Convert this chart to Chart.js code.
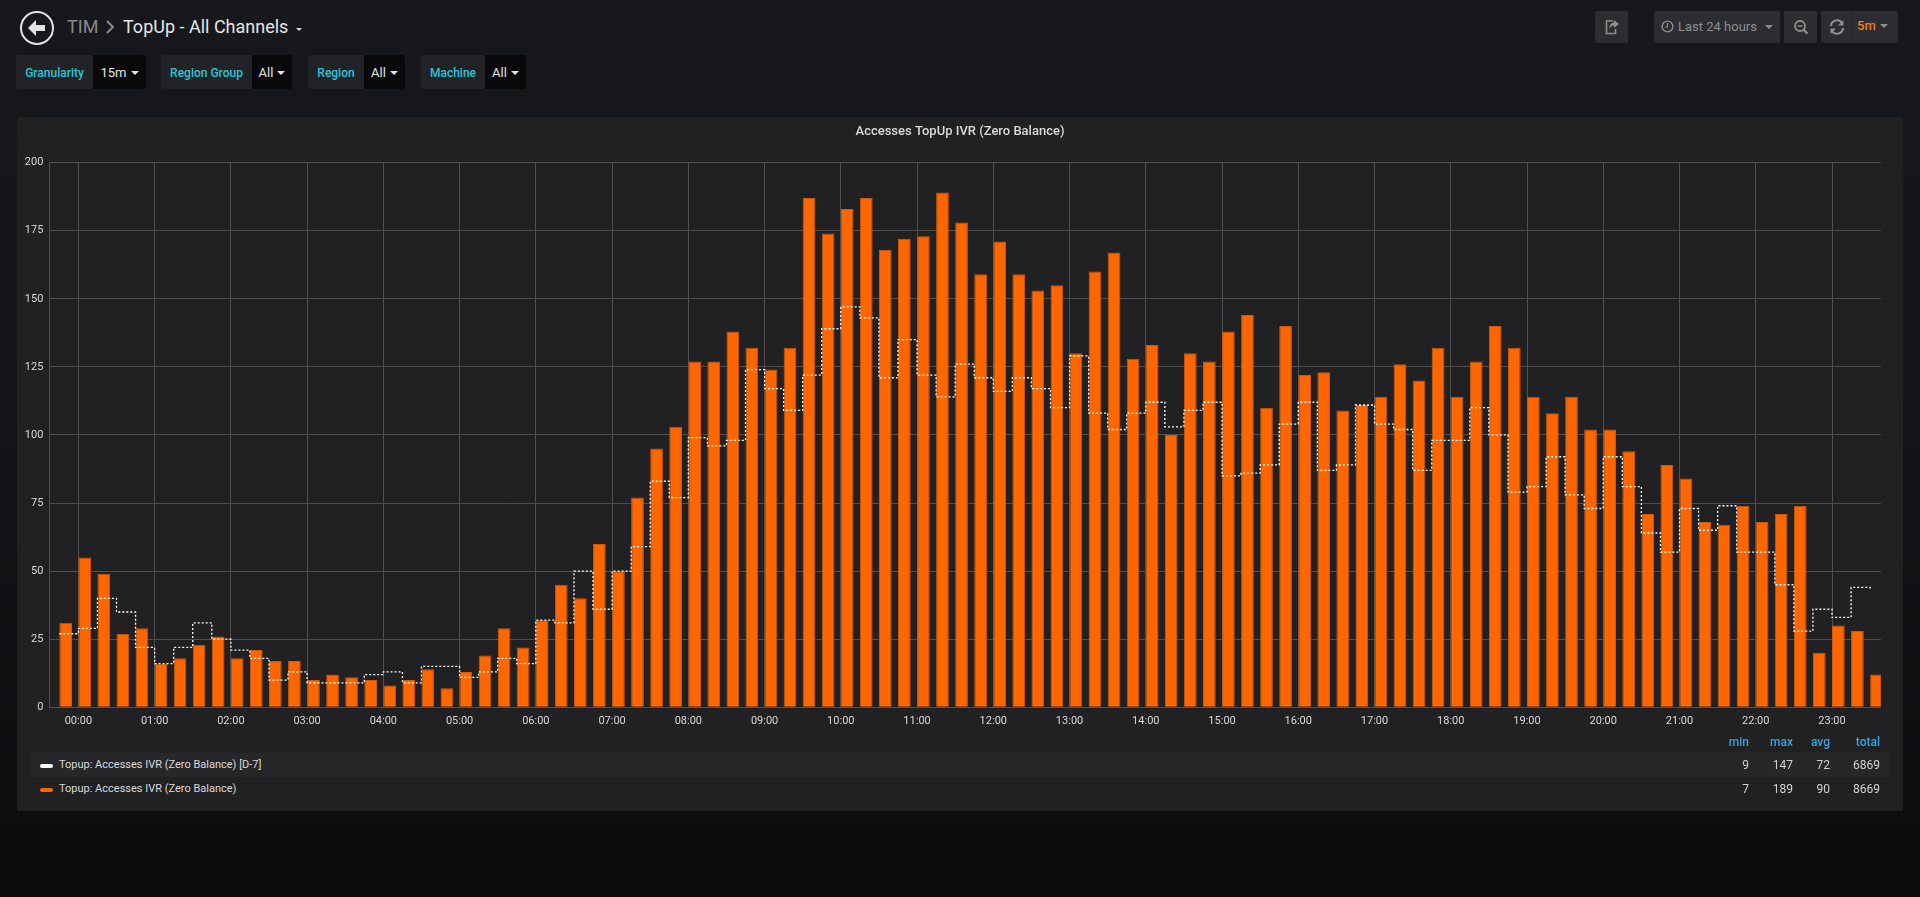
<!DOCTYPE html>
<html>
<head>
<meta charset="utf-8">
<title>TopUp - All Channels</title>
<script src="https://cdn.jsdelivr.net/npm/chart.js@4"></script>
<style>
html,body{margin:0;padding:0;width:1920px;height:897px;overflow:hidden;font-family:Roboto,sans-serif;}
body{background:linear-gradient(180deg,#17181b 0%,#141518 45%,#0b0c0e 100%);position:relative;}
.a{position:absolute;white-space:nowrap;}
.c{display:flex;align-items:center;justify-content:center;}
.caret{display:inline-block;width:0;height:0;border-left:4px solid transparent;border-right:4px solid transparent;border-top:4px solid currentColor;}
.lab{background:#212327;color:#29c5d9;font-size:12px;font-weight:500;border-radius:3px 0 0 3px;top:55px;height:34px;box-sizing:border-box;padding-top:1px;}
.val{background:#09090b;color:#e4e4e4;font-size:13px;border-radius:0 3px 3px 0;top:55px;height:34px;gap:4px;box-sizing:border-box;padding-top:1px;}
.btn{background:#2c2d30;border-radius:2px;top:11px;height:32px;color:#8e8e8e;font-size:13px;}
#panel{left:17px;top:117px;width:1886px;height:694px;background:#212124;border-radius:2px;}
canvas{position:absolute;left:17px;top:117px;}
.hd{top:735px;color:#33a5e0;font-size:12px;font-weight:500;text-align:right;line-height:14px;}
.row{left:30px;width:1860px;height:24px;}
.txt{color:#d0d1d2;font-size:12px;line-height:14px;}
.name{color:#d8d9da;font-size:11px;line-height:14px;}
.num{text-align:right;}
.sw{left:40px;width:13px;height:4px;border-radius:2px;}
</style>
</head>
<body>
<!-- header -->
<svg class="a" style="left:19px;top:10px" width="36" height="36" viewBox="0 0 36 36">
  <circle cx="18" cy="18" r="16" fill="none" stroke="#e3e3e3" stroke-width="2"/>
  <path d="M9 18 L17 10 L17 15 L26 15 L26 21 L17 21 L17 26 Z" fill="#e3e3e3"/>
</svg>
<div class="a" id="crumb" style="left:67px;top:15px;font-size:18px;line-height:24px;color:#8a8a8a">TIM</div>
<svg class="a" style="left:105px;top:20px" width="10" height="14" viewBox="0 0 10 14"><path d="M2 1 L8 7 L2 13" fill="none" stroke="#8a8a8a" stroke-width="2"/></svg>
<div class="a" style="left:123px;top:15px;font-size:18px;line-height:24px;color:#e6e6e6">TopUp - All Channels</div>
<div class="a caret" style="left:296px;top:28px;color:#d8d9da;border-left-width:3.5px;border-right-width:3.5px;border-top-width:3.5px"></div>

<div class="a lab c" style="left:16px;width:77px">Granularity</div>
<div class="a val c" style="left:93px;width:53px">15m <span class="caret"></span></div>
<div class="a lab c" style="left:161px;width:91px">Region Group</div>
<div class="a val c" style="left:252px;width:40px">All <span class="caret"></span></div>
<div class="a lab c" style="left:308px;width:56px">Region</div>
<div class="a val c" style="left:364px;width:41px">All <span class="caret"></span></div>
<div class="a lab c" style="left:421px;width:64px">Machine</div>
<div class="a val c" style="left:485px;width:41px">All <span class="caret"></span></div>

<div class="a btn c" style="left:1595px;width:33px">
  <svg width="16" height="16" viewBox="0 0 16 16"><path d="M9 2 H2.5 V14.5 H11.5 V10" fill="none" stroke="#8e8e8e" stroke-width="1.6"/><path d="M10 1 L15 5 L10 9 V6.6 C7.5 6.6 6 8 5.6 10.5 C5 7 6.5 3.6 10 3.4 Z" fill="#8e8e8e"/></svg>
</div>
<div class="a btn c" style="left:1654px;width:126px;gap:4px;background:#2c2d30;padding-bottom:1px;box-sizing:border-box">
  <svg width="13" height="13" viewBox="0 0 13 13"><circle cx="6.5" cy="6.5" r="5.4" fill="none" stroke="#8e8e8e" stroke-width="1.4"/><path d="M6.5 3 V7 H4" fill="none" stroke="#8e8e8e" stroke-width="1.2"/></svg>
  <span>Last 24 hours</span><span class="caret" style="margin-left:4px"></span>
</div>
<div class="a btn c" style="left:1784px;width:33px">
  <svg width="16" height="16" viewBox="0 0 16 16"><circle cx="7" cy="7" r="5" fill="none" stroke="#8e8e8e" stroke-width="1.8"/><path d="M4.5 7 H9.5" stroke="#8e8e8e" stroke-width="1.5"/><path d="M10.6 10.6 L14.5 14.8" stroke="#8e8e8e" stroke-width="2.2"/></svg>
</div>
<div class="a btn" style="left:1821px;width:77px">
  <svg class="a" style="left:8px;top:8px" width="16" height="16" viewBox="0 0 16 16"><path d="M2 7 A6 6 0 0 1 13 4" fill="none" stroke="#8e8e8e" stroke-width="2.2"/><path d="M14.5 1 V6.5 H9 Z" fill="#8e8e8e"/><path d="M14 9 A6 6 0 0 1 3 12" fill="none" stroke="#8e8e8e" stroke-width="2.2"/><path d="M1.5 15 V9.5 H7 Z" fill="#8e8e8e"/></svg>
  <div class="a" style="left:30px;top:0;width:1px;height:32px;background:#26272a"></div>
  <span class="a" style="left:36px;top:7px;line-height:16px;color:#f4791f;font-weight:500">5m</span>
  <span class="a caret" style="left:59px;top:13px"></span>
</div>

<div class="a" id="panel"></div>
<canvas id="chart" width="1886" height="643" style="width:1886px;height:643px"></canvas>

<!-- legend -->
<div class="a row" style="top:753px;background:#27272a"></div>
<div id="legend"></div>

<script>
// ---- data ----
const chartTitle = "Accesses TopUp IVR (Zero Balance)";
const slotTimes = [
"-00:15","00:00","00:15","00:30","00:45","01:00","01:15","01:30","01:45","02:00","02:15","02:30",
"02:45","03:00","03:15","03:30","03:45","04:00","04:15","04:30","04:45","05:00","05:15","05:30",
"05:45","06:00","06:15","06:30","06:45","07:00","07:15","07:30","07:45","08:00","08:15","08:30",
"08:45","09:00","09:15","09:30","09:45","10:00","10:15","10:30","10:45","11:00","11:15","11:30",
"11:45","12:00","12:15","12:30","12:45","13:00","13:15","13:30","13:45","14:00","14:15","14:30",
"14:45","15:00","15:15","15:30","15:45","16:00","16:15","16:30","16:45","17:00","17:15","17:30",
"17:45","18:00","18:15","18:30","18:45","19:00","19:15","19:30","19:45","20:00","20:15","20:30",
"20:45","21:00","21:15","21:30","21:45","22:00","22:15","22:30","22:45","23:00","23:15","23:30"];
const currentValues = [
31,55,49,27,29,16,18,23,26,18,21,17,17,10,12,11,10,8,10,14,7,13,19,29,22,32,45,40,60,50,77,95,
103,127,127,138,132,124,132,187,174,183,187,168,172,173,189,178,159,171,159,153,155,130,160,167,
128,133,100,130,127,138,144,110,140,122,123,109,111,114,126,120,132,114,127,140,132,114,108,114,
102,102,94,71,89,84,68,67,74,68,71,74,20,30,28,12];
const previousValues = [
27,29,40,35,22,16,22,31,25,21,18,10,13,9,9,9,12,13,9,15,15,11,13,18,16,32,31,50,36,50,59,83,
77,99,96,98,124,117,109,122,139,147,143,121,135,122,114,126,121,116,121,117,110,129,108,102,108,112,103,109,
112,85,86,89,104,112,87,89,111,104,102,87,98,98,110,100,79,81,92,78,73,92,81,64,57,73,65,74,57,57,45,28,36,33,44,43];
const hourLabels = ["00:00","01:00","02:00","03:00","04:00","05:00","06:00","07:00","08:00","09:00","10:00","11:00",
"12:00","13:00","14:00","15:00","16:00","17:00","18:00","19:00","20:00","21:00","22:00","23:00"];
const yTicks = [0,25,50,75,100,125,150,175,200];
const seriesNames = ["Topup: Accesses IVR (Zero Balance) [D-7]","Topup: Accesses IVR (Zero Balance)"];
const seriesColors = ["#ffffff","#fb6400"];
const statHeads = ["min","max","avg","total"];
const statPrevious = [9,147,72,6869];
const statCurrent = [7,189,90,8669];
// ---- axis window of the time range (minutes from 00:00) and bar offset ----
const xMin = -22.8, xMax = 1418.4, barCenterOffset = 5;

function toMinutes(s){
  const neg = s[0]==="-"; const p = s.replace("-","").split(":");
  const m = (+p[0])*60 + (+p[1]);
  return neg ? -m : m;
}

// the y labels sit in the layout padding, so the axis' label clip has to reach the canvas edge
const widenYLabelArea = { id:"widenYLabelArea", beforeDraw(chart){ chart.scales.y.left = 0; } };

new Chart(document.getElementById("chart"), {
  plugins:[widenYLabelArea],
  data: {
    datasets: [
      { type:"line", label:seriesNames[0], order:0,
        data: slotTimes.map((t,i)=>({x:toMinutes(t), y:previousValues[i]})),
        borderColor:seriesColors[0], borderWidth:1.3, borderDash:[2,2], stepped:"before", pointRadius:0, fill:false },
      { type:"bar", label:seriesNames[1], order:1,
        data: slotTimes.map((t,i)=>({x:toMinutes(t)+barCenterOffset, y:currentValues[i]})),
        backgroundColor:"#fd6600", borderColor:"#cf5905", borderWidth:1, borderSkipped:"bottom",
        categoryPercentage:1, barPercentage:2/3 }
    ]
  },
  options: {
    responsive:false, animation:false, devicePixelRatio:1,
    layout:{padding:{left:22.2,right:22.2,top:0,bottom:0}},
    plugins:{
      legend:{display:false}, tooltip:{enabled:false},
      title:{display:true,text:chartTitle,color:"#d8d9da",font:{family:"Roboto",size:13,weight:"500"},padding:{top:7,bottom:23}}
    },
    scales:{
      x:{ type:"linear", min:xMin, max:xMax, offset:false,
        afterBuildTicks(ax){ ax.ticks = hourLabels.map(h=>({value:toMinutes(h),label:h})); },
        afterFit(ax){ ax.height = 52.7; },
        grid:{color:"#505051",lineWidth:1,drawTicks:false,offset:false},
        border:{color:"#505051"},
        ticks:{color:"#d8d9da",font:{family:"Roboto",size:11},padding:7,maxRotation:0,autoSkip:false,
          callback(v){ const i = hourLabels.findIndex(h=>toMinutes(h)===v); return i>=0?hourLabels[i]:""; }}
      },
      y:{ type:"linear", min:0, max:200,
        afterBuildTicks(ax){ ax.ticks = yTicks.map(v=>({value:v})); },
        afterFit(ax){ ax.width = 10.2; },
        grid:{color:"#4f4f50",lineWidth:1,drawTicks:false},
        border:{color:"#4f4f50"},
        ticks:{color:"#d8d9da",font:{family:"Roboto",size:11},padding:6}
      }
    }
  }
});

// legend table
const legend = document.getElementById("legend");
const colRight = [1749,1793,1830,1880];
function add(cls,style,text){ const d=document.createElement("div"); d.className="a "+cls; d.style.cssText=style; d.textContent=text; legend.appendChild(d); }
statHeads.forEach((h,i)=>add("hd","right:"+(1920-colRight[i])+"px",h));
[[765,statPrevious],[789,statCurrent]].forEach(([cy,st],r)=>{
  add("sw","top:"+(cy-1)+"px;background:"+seriesColors[r],"");
  add("name","left:59px;top:"+(cy-7)+"px",seriesNames[r]);
  st.forEach((v,i)=>add("txt num","right:"+(1920-colRight[i])+"px;top:"+(cy-7)+"px",String(v)));
});
</script>
</body>
</html>
